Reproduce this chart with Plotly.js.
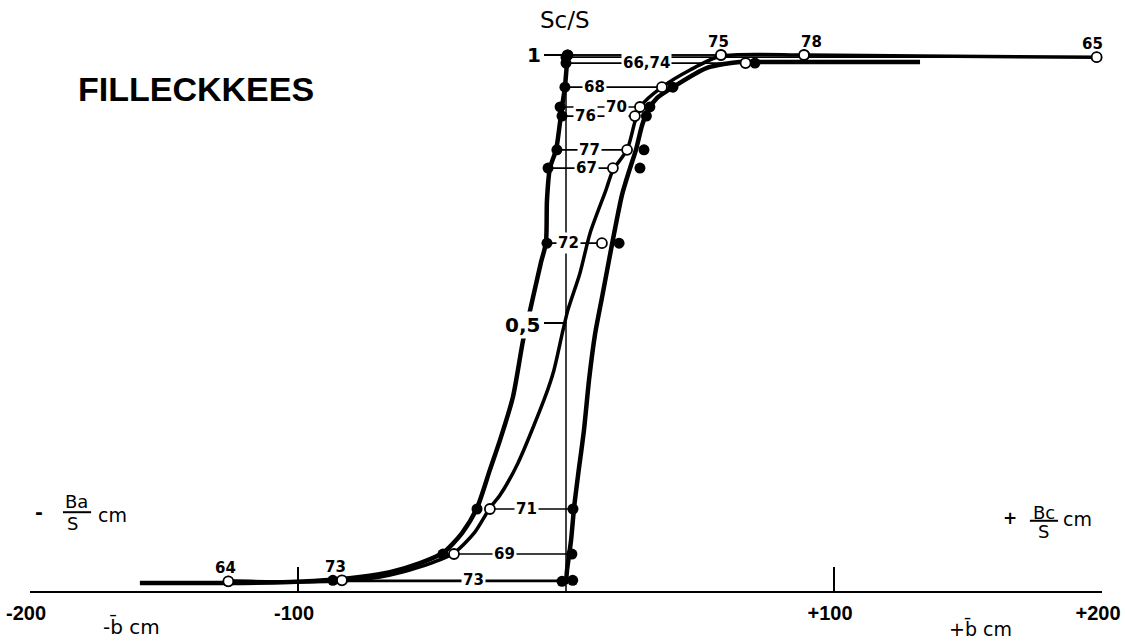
<!DOCTYPE html>
<html>
<head>
<meta charset="utf-8">
<script src="https://cdn.plot.ly/plotly-3.0.1.min.js"></script>
<style>
  html, body { margin: 0; padding: 0; background: #ffffff; }
  #chart { width: 1125px; height: 642px; }
</style>
</head>
<body>
<div id="chart"></div>
<script>
// ---------------- DATA ----------------
// Year labels (1966 and 1974 share one point)
const yearLabels = ['64', '65', '66,74', '67', '68', '69', '70', '71', '72', '73', '75', '76', '77', '78'];
// Sc/S : accumulation area ratio
const accRatio = [0.018, 0.996, 0.985, 0.789, 0.940, 0.069, 0.903, 0.153, 0.649, 0.020, 1.000, 0.886, 0.823, 1.000];
// -Ba/S : ablation per total area (cm), filled dots, left curve
const ablation = [-126, 0, 0, -6.7, -0.4, -45.9, -2.2, -33.2, -7.1, -87, 0.7, -1.5, -3.4, 0.5];
// +Bc/S : accumulation per total area (cm), filled dots, right curve
const accumulation = [-1.5, 198, 70.5, 27.6, 39.9, 2.2, 31.3, 2.6, 19.8, 2.5, 58, 30, 29.1, 89];
// b : net specific balance (cm), open circles, middle curve
const netBalance = [-126, 198, 67, 17.5, 35.8, -41.8, 27.6, -28.4, 13.4, -83.6, 57.8, 25.7, 22.8, 88.8];

// Hand-drawn curves (x in cm, y = Sc/S)
const curveAblX = [1, 0.4, -0.4, -1.5, -2.6, -3.7, -6, -7.1, -7.5, -9.3, -13.4, -16, -19.8, -24.6, -28.4, -33.2, -38.8, -45.9, -54.5, -65.7, -76.9, -86.9, -103, -126, -159];
const curveAblY = [1.0, 0.985, 0.94, 0.903, 0.86, 0.823, 0.789, 0.729, 0.649, 0.614, 0.524, 0.468, 0.362, 0.282, 0.226, 0.155, 0.108, 0.071, 0.052, 0.035, 0.026, 0.021, 0.017, 0.015, 0.015];

const curveNetX = [-126.1, -103, -83.6, -69.4, -54.5, -41.8, -34, -28.4, -24.6, -17.9, -7.8, -4.5, -1.1, 0.7, 5.2, 9.0, 14.9, 17.5, 22.8, 25.7, 28.0, 35.8, 46.3, 57.8, 88.8, 132, 198];
const curveNetY = [0.019, 0.017, 0.019, 0.026, 0.045, 0.071, 0.110, 0.155, 0.179, 0.239, 0.362, 0.412, 0.487, 0.524, 0.593, 0.668, 0.748, 0.785, 0.823, 0.875, 0.905, 0.940, 0.972, 0.998, 1.0, 0.998, 0.996];

const curveAccX = [0, 0.4, 1.9, 3.0, 4.5, 6.7, 8.6, 10.8, 13.6, 17.1, 20.9, 23.9, 26.1, 28.4, 30.6, 34.0, 39.9, 52.6, 64.9, 70.5, 132.1];
const curveAccY = [0.013, 0.039, 0.095, 0.155, 0.216, 0.300, 0.394, 0.478, 0.552, 0.645, 0.739, 0.789, 0.823, 0.869, 0.897, 0.920, 0.940, 0.976, 0.987, 0.987, 0.987];

// Axis tick labels
const xTickVals = [-200, -100, 100, 200];
const xTickText = ['-200', '-100', '+100', '+200'];
const yTickVals = [0.5, 1];
const yTickText = ['0,5', '1'];

// ---------------- BUILD ----------------
const FONT = 'DejaVu Sans, sans-serif';
const NARROW = 'Liberation Sans, Arial, sans-serif';
const INK = '#000000';

// horizontal connector for each year: from b to the point near the axis
const segX = [], segY = [];
for (let i = 0; i < yearLabels.length; i++) {
  const other = netBalance[i] > 0 ? ablation[i] : accumulation[i];
  segX.push(netBalance[i], other, null);
  segY.push(accRatio[i], accRatio[i], null);
}

const traces = [
  { type: 'scatter', mode: 'lines', x: segX, y: segY, hoverinfo: 'skip',
    line: { color: INK, width: 1.7 }, cliponaxis: false, showlegend: false },
  { type: 'scatter', mode: 'lines', x: curveAblX, y: curveAblY, hoverinfo: 'skip',
    line: { color: INK, width: 4.5, shape: 'spline', smoothing: 0.7 }, cliponaxis: false, showlegend: false },
  { type: 'scatter', mode: 'lines', x: curveAccX, y: curveAccY, hoverinfo: 'skip',
    line: { color: INK, width: 4.5, shape: 'spline', smoothing: 0.7 }, cliponaxis: false, showlegend: false },
  { type: 'scatter', mode: 'lines', x: curveNetX, y: curveNetY, hoverinfo: 'skip',
    line: { color: INK, width: 3.5, shape: 'spline', smoothing: 0.7 }, cliponaxis: false, showlegend: false },
  { type: 'scatter', mode: 'markers', x: ablation, y: accRatio, text: yearLabels,
    marker: { symbol: 'circle', size: 11, color: INK }, cliponaxis: false, showlegend: false },
  { type: 'scatter', mode: 'markers', x: accumulation, y: accRatio, text: yearLabels,
    marker: { symbol: 'circle', size: 11, color: INK }, cliponaxis: false, showlegend: false },
  { type: 'scatter', mode: 'markers', x: netBalance, y: accRatio, text: yearLabels,
    marker: { symbol: 'circle', size: 10, color: '#ffffff', line: { color: INK, width: 1.8 } },
    cliponaxis: false, showlegend: false }
];

// label placement (layout only)
const inlineLabelX = { '66,74': 30.2, '68': 10.8, '70': 19.0, '76': 7.1, '77': 8.6, '67': 7.5, '72': 1.1, '71': -14.6, '69': -22.8, '73': -34.7 };
const aboveLabelShift = { '75': -2, '78': 8, '65': -4, '64': -3, '73': -6 };

const annotations = [];
const yearFont = { family: FONT, size: 15, color: INK, weight: 'bold' };
yearLabels.forEach((lab, i) => {
  if (lab in inlineLabelX) {
    annotations.push({ xref: 'x', yref: 'y', x: inlineLabelX[lab], y: accRatio[i], text: lab,
      xanchor: 'center', yanchor: 'middle',
      showarrow: false, bgcolor: '#ffffff', borderpad: 1, font: yearFont });
  }
  if (lab in aboveLabelShift) {
    annotations.push({ xref: 'x', yref: 'y', x: netBalance[i], y: accRatio[i], text: lab,
      xanchor: 'center', yanchor: 'middle',
      showarrow: false, xshift: aboveLabelShift[lab], yshift: 13, font: yearFont });
  }
});

// paper y: fraction of the 547 px plot height measured up from the b axis
const txt = (x, y, text, size, extra, family) => Object.assign({ xref: 'x', yref: 'paper', x: x, y: y, text: text,
  xanchor: 'center', yanchor: 'middle',
  showarrow: false, font: { family: family || FONT, size: size, color: INK } }, extra || {});
const bold = (s) => '<b>' + s + '</b>';

annotations.push(
  txt(-138.1, 0.917, bold('FILLECKKEES'), 34, null, NARROW),
  txt(-0.4, 1.044, 'Sc/S', 23),
  txt(-11.8, 0.980, bold(yTickText[1]), 20, { bgcolor: '#ffffff', borderpad: 0 }),
  txt(-16.4, 0.486, bold(yTickText[0]), 20, { bgcolor: '#ffffff', borderpad: 1 }),
  txt(-162, -0.064, '-b\u0304 cm', 20),
  txt(154.5, -0.068, '+b\u0304 cm', 19),
  // - Ba/S cm
  txt(-196.6, 0.144, bold('-'), 19),
  txt(-182.5, 0.163, 'Ba', 18),
  txt(-184.0, 0.124, 'S', 18),
  txt(-169.4, 0.139, 'cm', 19),
  // + Bc/S cm
  txt(165.7, 0.133, bold('+'), 17),
  txt(178.5, 0.144, 'Bc', 18),
  txt(178.0, 0.108, 'S', 18),
  txt(191.0, 0.131, 'cm', 19)
);

const shapes = [
  // vertical Sc/S axis at b = 0
  { type: 'line', xref: 'x', yref: 'y', x0: 0, x1: 0, y0: 0, y1: 1, line: { color: INK, width: 1.5 }, layer: 'below' },
  // fraction bars
  { type: 'line', xref: 'x', yref: 'y', x0: -187.7, x1: -177.2, y0: 0.147, y1: 0.147, line: { color: INK, width: 2 } },
  { type: 'line', xref: 'x', yref: 'y', x0: 173.1, x1: 183.6, y0: 0.131, y1: 0.131, line: { color: INK, width: 2 } }
];

const layout = {
  width: 1125, height: 642,
  margin: { l: 30, r: 23, t: 44, b: 51, pad: 0 },
  paper_bgcolor: '#ffffff', plot_bgcolor: '#ffffff',
  showlegend: false, hovermode: false,
  xaxis: {
    range: [-200, 200], showgrid: false, zeroline: false,
    showline: true, linecolor: INK, linewidth: 2,
    ticks: 'inside', ticklen: 24, tickwidth: 2, tickcolor: INK,
    tickvals: xTickVals, ticktext: xTickText.map(bold),
    tickfont: { family: NARROW, size: 20, color: INK },
    ticklabelstandoff: 3, ticklabelshift: -4, ticklabeloverflow: 'allow', fixedrange: true
  },
  yaxis: {
    range: [0, 1.0205], anchor: 'free', position: 0.5,
    showgrid: false, zeroline: false, showline: false,
    ticks: 'outside', ticklen: 22, tickwidth: 1.5, tickcolor: INK,
    tickvals: yTickVals, showticklabels: false, fixedrange: true
  },
  annotations: annotations,
  shapes: shapes
};

Plotly.newPlot('chart', traces, layout, { displayModeBar: false, staticPlot: true });
</script>
</body>
</html>
